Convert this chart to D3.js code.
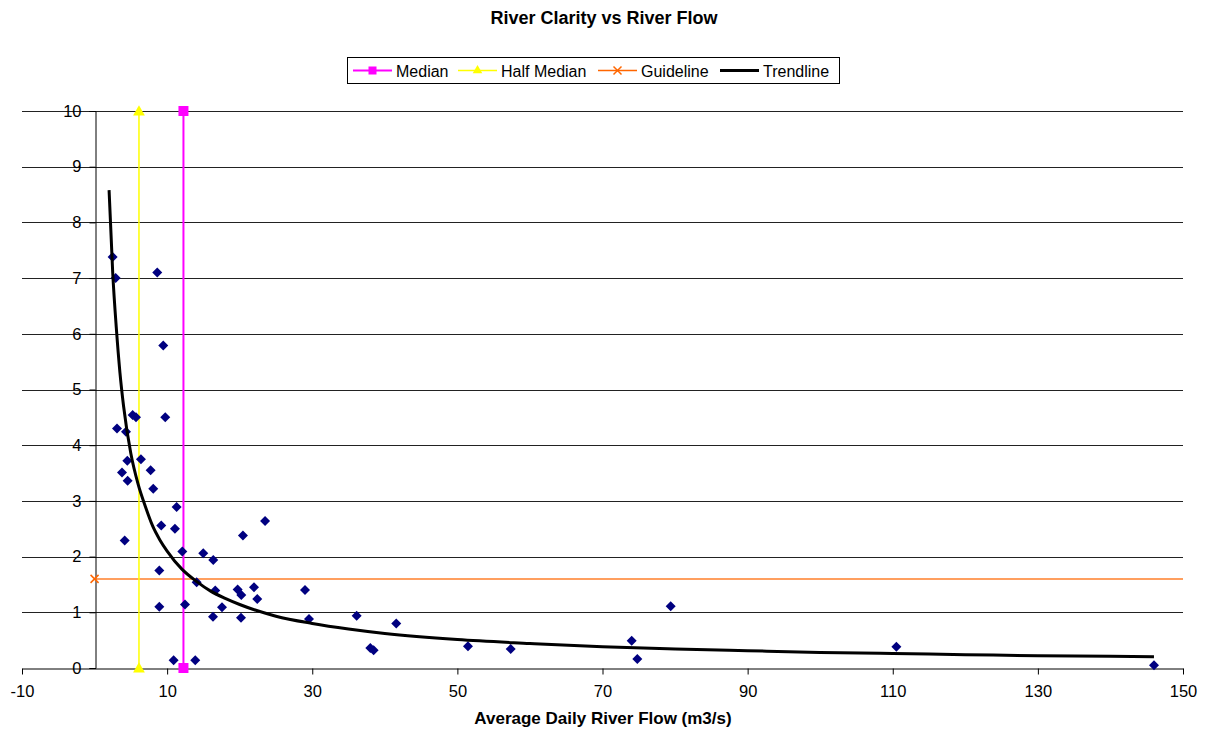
<!DOCTYPE html>
<html>
<head>
<meta charset="utf-8">
<script src="https://cdn.jsdelivr.net/npm/d3@7"></script>
<style>
  body { margin: 0; background: #fff; }
  text { font-family: "Liberation Sans", Arial, sans-serif; }
</style>
</head>
<body>
<div id="chart"></div>
<script>
// observed samples: flow (m3/s) and clarity (m)
var flow = [2.49, 2.91, 8.64, 9.47, 5.25, 5.71, 9.74, 3.09, 4.33, 4.51, 6.39, 3.78, 7.73, 4.56,
  8.09, 11.31, 9.19, 11.08, 4.15, 12.09, 14.98, 23.5, 20.45, 16.36, 8.92, 14.07, 16.63, 19.72,
  20.22, 21.97, 22.42, 8.92, 12.46, 17.56, 16.32, 20.18, 10.9, 13.88, 29.0, 29.55, 36.12,
  41.58, 38.0, 38.46, 51.46, 57.35, 74.02, 74.8, 79.4, 110.5, 146.0];
var clarity = [7.38, 7.0, 7.1, 5.79, 4.54, 4.5, 4.5, 4.3, 4.24, 3.72, 3.75, 3.51, 3.55, 3.36,
  3.22, 2.89, 2.56, 2.5, 2.29, 2.09, 2.06, 2.64, 2.38, 1.94, 1.75, 1.54, 1.39, 1.41,
  1.31, 1.45, 1.24, 1.1, 1.14, 1.09, 0.92, 0.9, 0.14, 0.14, 1.4, 0.88, 0.94,
  0.8, 0.36, 0.32, 0.39, 0.34, 0.49, 0.16, 1.11, 0.38, 0.05];

var medianX = [12.25, 12.25], medianY = [0, 10];
var halfMedianX = [6.12, 6.12], halfMedianY = [0, 10];
var guideX = [0, 150], guideY = [1.6, 1.6];

var trendX = [2, 2.5, 3, 3.5, 4, 5, 6, 7, 8, 9, 10, 12, 14, 16, 18, 20, 25, 30, 35, 40,
  50, 60, 70, 80, 90, 100, 110, 120, 130, 140, 146];
var trendY = [8.58, 7.1, 6.1, 5.3, 4.7, 3.85, 3.3, 2.9, 2.55, 2.3, 2.1, 1.78, 1.56, 1.38, 1.25, 1.14, 0.93, 0.8, 0.7, 0.62,
  0.51, 0.44, 0.38, 0.34, 0.31, 0.28, 0.26, 0.24, 0.22, 0.21, 0.2];

var xTicks = [-10, 10, 30, 50, 70, 90, 110, 130, 150];
var yTicks = [0, 1, 2, 3, 4, 5, 6, 7, 8, 9, 10];

var svgWidth = 1212, svgHeight = 731;

var svg = d3.select("#chart").append("svg")
  .attr("width", svgWidth)
  .attr("height", svgHeight);

var x = d3.scaleLinear().domain([-10, 150]).range([22, 1183]);
var y = d3.scaleLinear().domain([0, 10]).range([668, 111]);

// title
svg.append("text")
  .attr("x", 604).attr("y", 24)
  .attr("text-anchor", "middle")
  .style("font-size", "18px").style("font-weight", "bold")
  .text("River Clarity vs River Flow");

// gridlines
svg.append("g").selectAll("line")
  .data(yTicks.filter(d => d > 0))
  .enter().append("line")
  .attr("x1", x(-10)).attr("x2", x(150))
  .attr("y1", d => Math.round(y(d)) + 0.5).attr("y2", d => Math.round(y(d)) + 0.5)
  .attr("stroke", "#222").attr("stroke-width", 1);

// y axis at x = 0
var yAxis = svg.append("g")
  .attr("transform", `translate(${Math.round(x(0)) + 0.5},0)`)
  .call(d3.axisLeft(y).tickValues(yTicks).tickSize(6).tickPadding(8));
yAxis.select(".domain").attr("stroke", "#000");
yAxis.selectAll("text").style("font-size", "16.5px").attr("fill", "#000");

// x axis at y = 0
var xAxis = svg.append("g")
  .attr("transform", `translate(0,${Math.round(y(0)) + 0.5})`)
  .call(d3.axisBottom(x).tickValues(xTicks).tickFormat(d => String(d))
    .tickSize(6).tickSizeOuter(0).tickPadding(11));
xAxis.selectAll("text").style("font-size", "16.5px").attr("fill", "#000");

svg.append("text")
  .attr("x", 603).attr("y", 724)
  .attr("text-anchor", "middle")
  .style("font-size", "17px").style("font-weight", "bold")
  .text("Average Daily River Flow (m3/s)");

var line = d3.line().x(d => x(d[0])).y(d => y(d[1]));

// guideline
svg.append("path")
  .datum(d3.zip(guideX, guideY))
  .attr("d", line)
  .attr("fill", "none").attr("stroke", "#ff7f2a").attr("stroke-width", 1.5);

// half median
svg.append("path")
  .datum(d3.zip(halfMedianX, halfMedianY))
  .attr("d", line)
  .attr("fill", "none").attr("stroke", "#ffff00").attr("stroke-width", 1.5);

// median
svg.append("path")
  .datum(d3.zip(medianX, medianY))
  .attr("d", line)
  .attr("fill", "none").attr("stroke", "#ff00ff").attr("stroke-width", 2);

// scatter points
svg.append("g").selectAll("path")
  .data(d3.zip(flow, clarity))
  .enter().append("path")
  .attr("transform", d => `translate(${x(d[0])},${y(d[1])})`)
  .attr("d", "M0,-5L5,0L0,5L-5,0Z")
  .attr("fill", "#000080");

// trendline
svg.append("path")
  .datum(d3.zip(trendX, trendY))
  .attr("d", line.curve(d3.curveMonotoneX))
  .attr("fill", "none").attr("stroke", "#000").attr("stroke-width", 3);

var triangle = d3.symbol().type(d3.symbolTriangle).size(60);

// markers
svg.append("g").selectAll("path")
  .data(d3.zip(halfMedianX, halfMedianY))
  .enter().append("path")
  .attr("transform", d => `translate(${x(d[0])},${y(d[1]) + 1})`)
  .attr("d", triangle)
  .attr("fill", "#ffff00");

svg.append("g").selectAll("rect")
  .data(d3.zip(medianX, medianY))
  .enter().append("rect")
  .attr("x", d => x(d[0]) - 5).attr("y", d => y(d[1]) - 5)
  .attr("width", 10).attr("height", 10)
  .attr("fill", "#ff00ff");

var gx = x(guideX[0]), gy = y(guideY[0]);
svg.append("path")
  .attr("d", `M${gx - 4},${gy - 4}L${gx + 4},${gy + 4}M${gx - 4},${gy + 4}L${gx + 4},${gy - 4}`)
  .attr("stroke", "#ff6600").attr("stroke-width", 1.5);

// legend
var legend = svg.append("g");
legend.append("rect")
  .attr("x", 347.5).attr("y", 57.5).attr("width", 492).attr("height", 26)
  .attr("fill", "#fff").attr("stroke", "#000");

var legendItems = [
  { name: "Median", color: "#ff00ff", x0: 353, marker: "square", w: 2 },
  { name: "Half Median", color: "#ffff00", x0: 458, marker: "triangle", w: 1.5 },
  { name: "Guideline", color: "#ff6600", x0: 598, marker: "cross", w: 1.5 },
  { name: "Trendline", color: "#000", x0: 720, marker: "none", w: 3 }
];
var ly = 70.5;
legendItems.forEach(function(item) {
  legend.append("line")
    .attr("x1", item.x0).attr("x2", item.x0 + 39)
    .attr("y1", ly).attr("y2", ly)
    .attr("stroke", item.color).attr("stroke-width", item.w);
  var cx = item.x0 + 19.5;
  if (item.marker === "square") {
    legend.append("rect").attr("x", cx - 4).attr("y", ly - 4).attr("width", 8).attr("height", 8)
      .attr("fill", item.color);
  } else if (item.marker === "triangle") {
    legend.append("path").attr("transform", `translate(${cx},${ly})`)
      .attr("d", d3.symbol().type(d3.symbolTriangle).size(40)).attr("fill", item.color);
  } else if (item.marker === "cross") {
    legend.append("path")
      .attr("d", `M${cx - 4},${ly - 4}L${cx + 4},${ly + 4}M${cx - 4},${ly + 4}L${cx + 4},${ly - 4}`)
      .attr("stroke", item.color).attr("stroke-width", 1.5);
  }
  legend.append("text")
    .attr("x", item.x0 + 43).attr("y", ly + 6)
    .style("font-size", "16px")
    .text(item.name);
});
</script>
</body>
</html>
